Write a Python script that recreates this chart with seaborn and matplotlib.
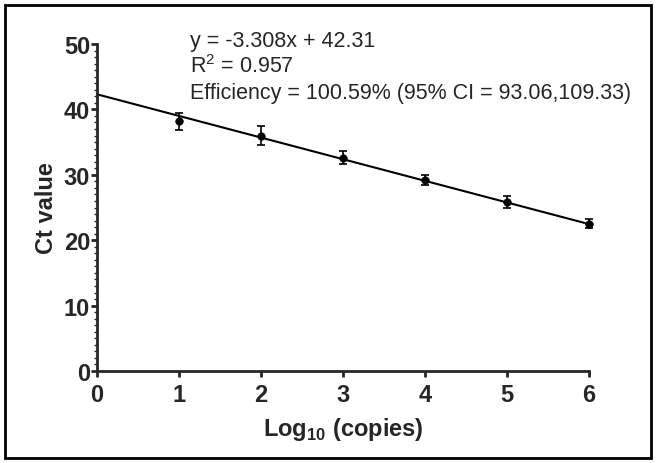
import matplotlib
matplotlib.use("Agg")
import matplotlib.pyplot as plt
import seaborn as sns
import numpy as np
import pandas as pd
from matplotlib.ticker import MultipleLocator
from matplotlib.patches import Rectangle

log_copies = [1, 2, 3, 4, 5, 6]
ct_mean = [38.2, 36.0, 32.6, 29.2, 25.8, 22.5]
ct_err = [1.3, 1.4, 1.0, 0.8, 0.9, 0.7]
slope = -3.308
intercept = 42.31
eq_lines = ["y = -3.308x + 42.31", "R$^2$ = 0.957",
            "Efficiency = 100.59% (95% CI = 93.06,109.33)"]

sns.set_style("ticks")
plt.rcParams['font.family'] = ['Liberation Sans', 'DejaVu Sans']
plt.rcParams['mathtext.fontset'] = 'custom'
plt.rcParams['mathtext.rm'] = 'Liberation Sans'
plt.rcParams['mathtext.bf'] = 'Liberation Sans:bold'

fig = plt.figure(figsize=(6.56, 4.64), dpi=100)
ax = fig.add_axes([97/656, 1-372/464, (589-97)/656, (372-45)/464])

df = pd.DataFrame({"x": log_copies, "y": ct_mean, "e": ct_err})
xs = np.array([0, 6])
ax.plot(xs, intercept + slope*xs, color="black", lw=1.5, zorder=2, clip_on=False)
ax.errorbar(df["x"], df["y"], yerr=df["e"], fmt="none", ecolor="black",
            elinewidth=1.2, capsize=3, capthick=1.2, zorder=3, clip_on=False)
sns.scatterplot(data=df, x="x", y="y", ax=ax, color="black", s=30,
                edgecolor="black", zorder=4, clip_on=False, legend=False)

ax.set_xlim(0, 6)
ax.set_ylim(0, 50)
ax.xaxis.set_major_locator(MultipleLocator(1))
ax.yaxis.set_major_locator(MultipleLocator(10))
ax.yaxis.set_minor_locator(MultipleLocator(1))
sns.despine(ax=ax)
for s in ["left", "bottom"]:
    ax.spines[s].set_linewidth(2)
ax.tick_params(axis="both", which="major", length=4, width=2, labelsize=17)
ax.tick_params(axis="x", which="major", pad=5)
ax.tick_params(axis="y", which="major", pad=1)
ax.tick_params(axis="y", which="minor", length=2.5, width=1)
for lab in ax.get_xticklabels() + ax.get_yticklabels():
    lab.set_fontweight("bold")
ax.set_xlabel("Log$_{\\mathbf{10}}$ (copies)", fontsize=17, fontweight="bold", labelpad=6)
ax.set_ylabel("Ct value", fontsize=17, fontweight="bold", labelpad=4)

ys = [41, 67, 93]
for t, yy in zip(eq_lines, ys):
    ax.text(190/656, 1 - yy/464, t, transform=fig.transFigure,
            fontsize=15.5, va="center", ha="left")

fig.patches.append(Rectangle((5/656, 5/464), 646/656, 453/464, transform=fig.transFigure,
                             fill=False, edgecolor="black", lw=2))
fig.savefig("out.png", dpi=100)
